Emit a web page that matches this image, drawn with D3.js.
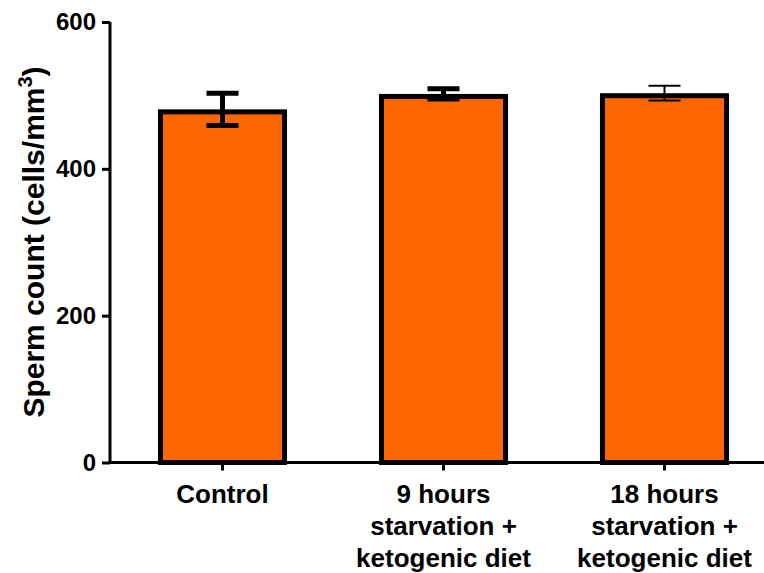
<!DOCTYPE html>
<html>
<head>
<meta charset="utf-8">
<script src="https://cdn.jsdelivr.net/npm/d3@7"></script>
<style>
  body { margin: 0; background: #fff; }
  text { font-family: "Liberation Sans", Arial, sans-serif; font-weight: bold; }
</style>
</head>
<body>
<script>
// sperm count bar chart

const groups = ["Control", "9 hours starvation + ketogenic diet", "18 hours starvation + ketogenic diet"];
const groupLines = [["Control"], ["9 hours", "starvation +", "ketogenic diet"], ["18 hours", "starvation +", "ketogenic diet"]];
const means = [481, 502, 503];
const errs = [22, 7, 10];
const yTicks = [0, 200, 400, 600];

const width = 764, height = 573;
const barStroke = 5;

const svg = d3.select("body").append("svg")
    .attr("width", width)
    .attr("height", height);

const x = d3.scaleBand()
    .domain(groups)
    .range([112, 775])
    .paddingInner(0.416)
    .paddingOuter(0.208);

const y = d3.scaleLinear()
    .domain([0, 600])
    .range([462.5, 22]);

const data = groups.map((g, i) => ({g: g, mean: means[i], err: errs[i], i: i}));

// bars (stroke drawn inside the bar edge)
svg.selectAll(".bar")
    .data(data)
    .join("rect")
    .attr("class", "bar")
    .attr("x", d => x(d.g) + barStroke / 2)
    .attr("y", d => y(d.mean) + barStroke / 2)
    .attr("width", x.bandwidth() - barStroke)
    .attr("height", d => y(0) - y(d.mean) - barStroke / 2)
    .attr("fill", "#ff6600")
    .attr("stroke", "#000")
    .attr("stroke-width", barStroke);

// error bars, last one is drawn thin
const errW = i => i === 2 ? 2 : 5;
const capHalf = 16;
const eb = svg.selectAll(".err")
    .data(data)
    .join("g")
    .attr("class", "err")
    .attr("stroke", "#000");

eb.append("line")
    .attr("x1", d => x(d.g) + x.bandwidth() / 2)
    .attr("x2", d => x(d.g) + x.bandwidth() / 2)
    .attr("y1", d => y(d.mean + d.err))
    .attr("y2", d => y(d.mean - d.err))
    .attr("stroke-width", d => errW(d.i));

eb.selectAll(".cap")
    .data(d => [d.mean + d.err, d.mean - d.err].map(v => ({v: v, d: d})))
    .join("line")
    .attr("class", "cap")
    .attr("x1", c => x(c.d.g) + x.bandwidth() / 2 - capHalf)
    .attr("x2", c => x(c.d.g) + x.bandwidth() / 2 + capHalf)
    .attr("y1", c => y(c.v))
    .attr("y2", c => y(c.v))
    .attr("stroke-width", c => errW(c.d.i));

// y axis
const yAxis = svg.append("g")
    .attr("transform", "translate(110,0)")
    .call(d3.axisLeft(y).tickValues(yTicks).tickSize(8).tickPadding(6).tickSizeOuter(0));
yAxis.select(".domain").attr("stroke-width", 3).attr("d", "M0," + y(600) + "V" + (y(0) + 1.5));
yAxis.selectAll(".tick line").attr("stroke-width", 3);
yAxis.selectAll(".tick text").attr("font-size", 24).attr("fill", "#000")
    .attr("font-family", "Liberation Sans, Arial, sans-serif").attr("font-weight", "bold");

// x axis
const xAxis = svg.append("g")
    .attr("transform", "translate(0," + y(0) + ")")
    .call(d3.axisBottom(x).tickSize(8).tickSizeOuter(0));
xAxis.select(".domain").attr("stroke-width", 3).attr("d", "M108.5,0H775");
xAxis.selectAll(".tick line").attr("stroke-width", 3);
xAxis.selectAll(".tick text").remove();
xAxis.selectAll(".tick")
    .append("text")
    .attr("fill", "#000")
    .attr("font-size", 26)
    .attr("text-anchor", "middle")
    .attr("font-family", "Liberation Sans, Arial, sans-serif")
    .attr("font-weight", "bold")
    .selectAll("tspan")
    .data((g, i) => groupLines[i])
    .join("tspan")
    .attr("x", 0)
    .attr("y", (t, j) => 40 + j * 32)
    .text(t => t);

// y label
const yl = svg.append("text")
    .attr("transform", "translate(44," + 242 + ") rotate(-90)")
    .attr("text-anchor", "middle")
    .attr("font-size", 30)
    .attr("fill", "#000");
yl.append("tspan").text("Sperm count (cells/mm");
yl.append("tspan").attr("font-size", 20).attr("dy", -12).text("3");
yl.append("tspan").attr("dy", 12).text(")");
</script>
</body>
</html>
